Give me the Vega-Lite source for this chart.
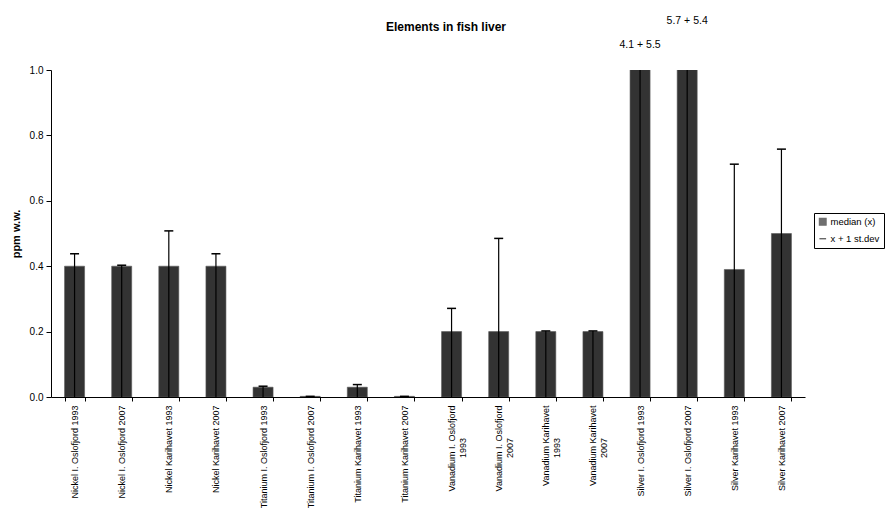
{
  "$schema": "https://vega.github.io/schema/vega-lite/v6.json",
  "width": 754,
  "height": 327,
  "autosize": {"type": "none"},
  "padding": {"left": 51, "top": 70, "right": 88, "bottom": 115},
  "background": "white",
  "config": {
    "view": {"stroke": null},
    "font": "Liberation Sans",
    "axis": {"grid": false, "domainColor": "black", "tickColor": "black", "labelColor": "black", "titleColor": "black", "labelFont": "Liberation Sans", "titleFont": "Liberation Sans"},
    "legend": {"orient": "none", "legendX": 763, "legendY": 143, "strokeColor": "black", "fillColor": "white", "padding": 4, "labelFontSize": 9.5, "labelColor": "black", "symbolSize": 45, "rowPadding": 5, "labelOffset": 3, "labelLimit": 200, "symbolStrokeWidth": 1.2}
  },
  "title": {"text": "Elements in fish liver", "fontSize": 12, "fontWeight": "bold", "anchor": "middle", "offset": -18, "dx": 18, "font": "Liberation Sans", "color": "black"},
  "data": {
    "values": [
      {"sample": "Nickel I. Oslofjord 1993", "median": 0.4, "upper": 0.438},
      {"sample": "Nickel I. Oslofjord 2007", "median": 0.4, "upper": 0.403},
      {"sample": "Nickel Karihavet 1993", "median": 0.4, "upper": 0.508},
      {"sample": "Nickel Karihavet 2007", "median": 0.4, "upper": 0.438},
      {"sample": "Titanium I. Oslofjord 1993", "median": 0.03, "upper": 0.033},
      {"sample": "Titanium I. Oslofjord 2007", "median": 0.002, "upper": 0.002},
      {"sample": "Titanium Karihavet 1993", "median": 0.03, "upper": 0.038},
      {"sample": "Titanium Karihavet 2007", "median": 0.002, "upper": 0.002},
      {"sample": "Vanadium I. Oslofjord|1993", "median": 0.2, "upper": 0.271},
      {"sample": "Vanadium I. Oslofjord|2007", "median": 0.2, "upper": 0.485},
      {"sample": "Vanadium Karihavet|1993", "median": 0.2, "upper": 0.202},
      {"sample": "Vanadium Karihavet|2007", "median": 0.2, "upper": 0.202},
      {"sample": "Silver I. Oslofjord 1993", "median": 4.1, "upper": 9.6, "note": "4.1 + 5.5"},
      {"sample": "Silver I. Oslofjord 2007", "median": 5.7, "upper": 11.1, "note": "5.7 + 5.4"},
      {"sample": "Silver Karihavet 1993", "median": 0.39, "upper": 0.712},
      {"sample": "Silver Karihavet 2007", "median": 0.5, "upper": 0.758}
    ]
  },
  "encoding": {
    "x": {
      "field": "sample",
      "type": "nominal",
      "sort": null,
      "scale": {"paddingInner": 0.575, "paddingOuter": 0.2875},
      "axis": {
        "title": null,
        "labelAngle": -90,
        "labelFontSize": 9,
        "labelPadding": 4,
        "tickBand": "extent",
        "tickSize": 4,
        "labelLimit": 200,
        "labelExpr": "length(split(datum.value, '|')) > 1 ? [split(datum.value, '|')[0], pad(split(datum.value, '|')[1], 17, '\\u00a0') + '\\u200b'] : datum.value"
      }
    }
  },
  "layer": [
    {
      "transform": [{"filter": "false"}],
      "mark": {"type": "point", "filled": true, "stroke": "black", "strokeWidth": 1},
      "encoding": {
        "color": {
          "field": "series",
          "type": "nominal",
          "scale": {"domain": ["median (x)", "x + 1 st.dev"], "range": ["#333333", "#000000"]},
          "legend": {"title": null}
        },
        "shape": {
          "field": "series",
          "type": "nominal",
          "scale": {"domain": ["median (x)", "x + 1 st.dev"], "range": ["square", "stroke"]},
          "legend": {"title": null}
        }
      }
    },
    {
      "mark": {"type": "bar", "clip": true, "stroke": "#5a5a5a", "strokeWidth": 0.6},
      "encoding": {
        "y": {
          "field": "median",
          "type": "quantitative",
          "scale": {"domain": [0, 1], "nice": false, "zero": true},
          "axis": {"title": "ppm w.w.", "titleFontSize": 11, "titleFontWeight": "bold", "titlePadding": 8, "values": [0, 0.2, 0.4, 0.6, 0.8, 1.0], "format": ".1f", "labelFontSize": 10, "tickSize": 5, "labelPadding": 3}
        },
        "color": {"datum": "median (x)"}
      }
    },
    {
      "mark": {"type": "rule", "clip": true, "strokeWidth": 1.2},
      "encoding": {
        "y": {"field": "upper", "type": "quantitative"},
        "y2": {"datum": 0},
        "color": {"datum": "x + 1 st.dev"}
      }
    },
    {
      "mark": {"type": "tick", "clip": true, "color": "black", "size": 9, "thickness": 1.5, "opacity": 1},
      "encoding": {
        "y": {"field": "upper", "type": "quantitative"}
      }
    },
    {
      "transform": [{"filter": "datum.sample === 'Silver I. Oslofjord 1993'"}],
      "mark": {"type": "text", "fontSize": 10.5, "color": "black", "baseline": "middle"},
      "encoding": {
        "y": {"datum": 1.075},
        "text": {"field": "note"}
      }
    },
    {
      "transform": [{"filter": "datum.sample === 'Silver I. Oslofjord 2007'"}],
      "mark": {"type": "text", "fontSize": 10.5, "color": "black", "baseline": "middle"},
      "encoding": {
        "y": {"datum": 1.15},
        "text": {"field": "note"}
      }
    }
  ]
}
